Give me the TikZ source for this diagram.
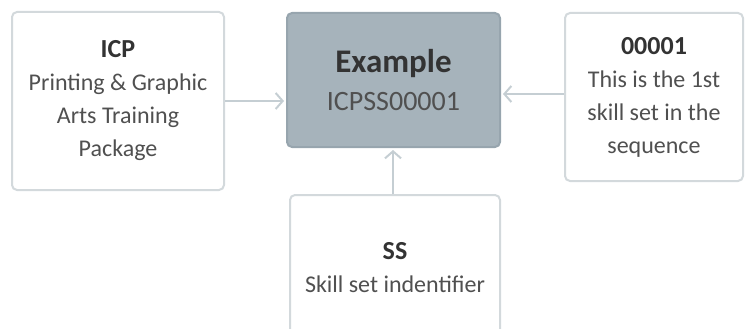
\documentclass[tikz,border=0pt]{standalone}
\usepackage{fontspec}
\setmainfont{Carlito}
\usetikzlibrary{arrows.meta}
\definecolor{bord}{HTML}{D3D9DC}
\definecolor{arr}{HTML}{C5CED3}
\definecolor{cfill}{HTML}{A6B3BB}
\definecolor{cbord}{HTML}{97A5AE}
\definecolor{txt}{HTML}{505050}
\definecolor{ttl}{HTML}{333333}
\tikzset{
  box/.style={draw=bord, line width=2pt, rounded corners=5pt, fill=white, align=center,
    text=txt, font=\fontsize{24}{33}\selectfont, inner sep=0pt},
  mainbox/.style={box, draw=cbord, fill=cfill},
  conn/.style={draw=arr, line width=2.5pt, -{Straight Barb[length=7pt,width=16pt,line width=2pt]}, shorten >=2pt}
}
\begin{document}
\begin{tikzpicture}[x=1pt,y=-1pt]
\useasboundingbox (0,0) rectangle (745,329);
\node[box, minimum width=212pt, minimum height=178pt] (l) at (118,101)
  {{\color{ttl}\bfseries\fontsize{26}{33}\selectfont ICP}\\Printing \& Graphic\\Arts Training\\Package};
\node[mainbox, minimum width=213pt, minimum height=134pt] (c) at (393.5,80)
  {{\color{ttl}\bfseries\fontsize{33}{43}\selectfont Example}\\[5pt]{\fontsize{28}{33}\selectfont ICPSS00001}};
\node[box, minimum width=178pt, minimum height=168pt] (r) at (654,97)
  {{\color{ttl}\bfseries\fontsize{26}{33}\selectfont 00001}\\This is the 1st\\skill set in the\\sequence};
\node[box, minimum width=210pt, minimum height=146pt] (b) at (395,268)
  {{\color{ttl}\bfseries\fontsize{26}{33}\selectfont SS}\\Skill set indentifier};
\draw[conn] (l.east) -- (l.east -| c.west);
\draw[conn] ([yshift=3pt]r.west) -- ([yshift=3pt]r.west -| c.east);
\draw[conn] ([xshift=-2pt]b.north) -- ([xshift=-2pt]b.north |- c.south);
\end{tikzpicture}
\end{document}
